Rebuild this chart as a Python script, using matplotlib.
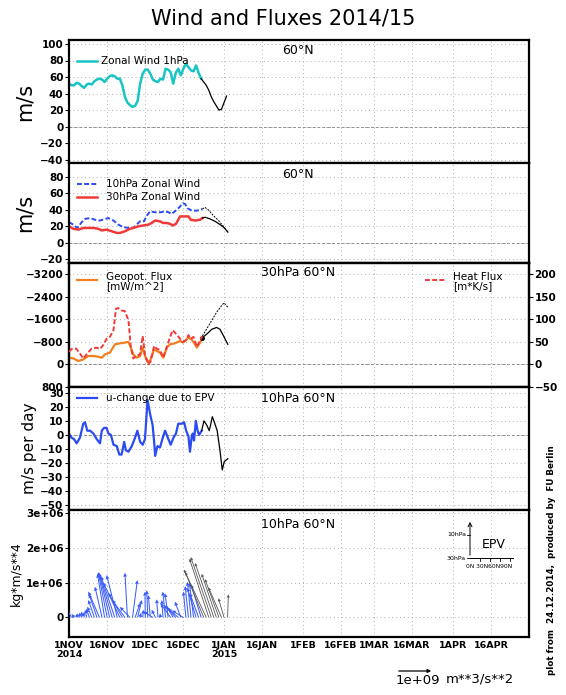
import numpy as np
import matplotlib
matplotlib.use("Agg")
import matplotlib.pyplot as plt

# x axis: days since 1 Nov 2014
tick_days = [0, 15, 30, 45, 61, 76, 92, 107, 120, 135, 151, 166]
tick_labels = ["1NOV\n2014", "16NOV", "1DEC", "16DEC", "1JAN\n2015", "16JAN",
               "1FEB", "16FEB", "1MAR", "16MAR", "1APR", "16APR"]
X_END = 181

# panel 1: zonal wind 1hPa 60N (analysis + forecast)
u1_days = list(range(0, 53))
u1_vals = [52, 50, 50, 53, 52, 49, 47, 51, 52, 51, 55, 57, 58, 57, 54, 58, 61, 62,
           61, 58, 58, 50, 36, 29, 26, 24, 25, 31, 52, 64, 69, 69, 64, 57, 55, 54,
           58, 57, 70, 69, 66, 52, 65, 70, 62, 70, 76, 72, 68, 67, 74, 65, 58]
u1f_days = list(range(52, 63))
u1f_vals = [58, 54, 50, 44, 36, 30, 25, 20, 21, 29, 37]

# panel 2: 10hPa / 30hPa zonal wind 60N
u10_days = [0, 1.7, 3.3, 5.0, 6.3, 8.3, 10.2, 12.2, 14.2, 15.5, 17.5, 19.4, 21.4, 23.4,
            25.3, 26.6, 27.9, 29.5, 30.6, 31.9, 33.9, 35.8, 37.8, 39.2, 40.4, 42.4,
            43.7, 44.8, 45.7, 46.6, 48.3, 50.3, 51.6, 52.5]
u10_vals = [25, 22, 18, 25, 29, 30, 28, 27, 29, 30, 27, 22, 19, 18, 18, 22, 26, 26,
            33, 38, 37, 37, 38, 37, 35, 40, 44, 48, 47, 42, 39, 39, 40, 41]
u10f_days = [52.5, 53.5, 54.8, 56.8, 58.8, 60.8, 62.5]
u10f_vals = [41, 43, 40, 33, 27, 20, 13]
u30_days = [0, 1.7, 3.7, 5.6, 7.6, 9.6, 11.5, 12.9, 14.8, 16.8, 18.8, 20.1, 22.0, 24.0,
            25.3, 27.3, 29.3, 31.2, 32.5, 33.9, 35.8, 37.1, 38.5, 39.8, 40.8, 42.1,
            43.7, 45.7, 47.0, 47.9, 49.6, 51.6, 52.5]
u30_vals = [20, 17, 16, 18, 18, 18, 17, 15, 16, 14, 12, 12, 14, 17, 18, 20, 21, 22,
            24, 27, 26, 24, 24, 23, 21, 23, 32, 32, 32, 28, 27, 28, 30]
u30f_days = [52.5, 53.5, 55.5, 57.5, 59.5, 60.8, 62.5]
u30f_vals = [30, 31, 29, 26, 22, 19, 13]

# panel 3: geopotential flux (left, inverted) and heat flux (right)
gp_days = [0, 1.7, 3.7, 5.6, 7.6, 9.6, 11.5, 12.9, 14.2, 16.1, 18.1, 20.1, 22.0, 23.4,
           24.0, 25.3, 26.6, 27.9, 29.0, 29.9, 31.2, 32.1, 33.5, 34.5, 35.8, 37.1,
           38.5, 39.8, 41.7, 43.7, 44.8, 45.7, 47.0, 48.3, 49.6, 50.3, 51.6, 52.5]
gp_vals = [-240, -215, -120, -180, -300, -300, -275, -240, -360, -420, -715, -750,
           -775, -800, -680, -360, -240, -290, -600, -300, -60, -180, -540, -480,
           -420, -240, -600, -715, -750, -835, -780, -835, -955, -880, -715, -600,
           -780, -955]
gpf_days = [52.5, 54.2, 56.2, 58.1, 59.4, 60.8, 62.5]
gpf_vals = [-955, -1075, -1250, -1313, -1250, -1015, -715]
hf_days = [0, 1.0, 2.8, 4.3, 5.6, 7.2, 8.9, 10.9, 12.2, 13.5, 14.8, 16.1, 17.5, 18.5,
           19.4, 20.7, 22.0, 23.4, 24.3, 25.3, 26.6, 27.9, 29.0, 29.9, 31.2, 32.1,
           33.5, 34.5, 35.8, 37.1, 38.5, 39.8, 40.8, 42.4, 43.7, 44.8, 46.1, 47.0,
           47.9, 49.0, 50.3, 51.6, 52.5]
hf_vals = [28, 34, 35, 24, 13, 24, 35, 37, 34, 43, 57, 61, 76, 124, 125, 120, 118,
           98, 39, 13, 20, 21, 63, 21, 0, 6, 41, 35, 32, 15, 39, 61, 76, 66, 57, 50,
           54, 65, 57, 61, 39, 54, 63]
hff_days = [52.5, 54.2, 56.2, 58.1, 60.1, 61.0, 62.5]
hff_vals = [63, 79, 98, 116, 131, 137, 127]

# panel 4: u-change due to EPV, 10hPa
ep_days = [0, 1.0, 2.0, 3.0, 4.3, 5.6, 6.3, 7.2, 8.3, 9.6, 10.9, 12.2, 12.9, 13.8,
           14.8, 15.5, 16.5, 17.5, 18.8, 19.8, 20.7, 21.7, 22.4, 23.4, 24.7, 26.0,
           26.9, 28.0, 29.0, 29.9, 30.9, 31.9, 32.9, 33.5, 33.9, 34.8, 35.8, 36.9,
           37.8, 39.1, 40.0, 41.1, 42.1, 43.0, 44.4, 45.3, 46.1, 47.0, 47.6, 48.3,
           48.7, 49.2, 49.9, 50.6, 51.2, 52.2]
ep_vals = [1, -2, -3, -6, -2, 8, 9, 3, 3, 1, -3, -6, 3, 5, 5, 1, 0, -7, -8, -14, -14,
           -5, -11, -12, -8, -2, 3, -5, -7, -3, 25, 15, 7, -5, -15, -8, -9, -2, 3, -3,
           -7, -2, 1, 8, 8, 9, 3, -1, -12, -1, 1, -4, 10, 3, 0, 3]
epf_days = [52.2, 53.1, 54.2, 55.2, 56.4, 57.4, 58.3, 59.4, 60.3, 61.1, 62.5]
epf_vals = [3, 10, 7, 3, 13, 8, 3, -11, -25, -19, -17]

# panel 5: EP flux vectors at 10hPa (origin day, tip day, vertical component in 1e6)
epv_org = list(range(0, 53))
epv_tip = [-1.5, -1.0, 1.0, 3.3, 4.3, 5.0, 5.5, 6.3, 6.8, 7.2, 7.6, 7.9, 7.6, 10.2,
           11.2, 11.5, 11.8, 12.2, 12.6, 14.8, 13.5, 15.5, 17.0, 22.0, 20.0, 26.9,
           28.0, 28.6, 28.3, 29.3, 29.9, 30.6, 31.2, 29.3, 32.5, 34.5, 35.8, 36.5,
           36.9, 37.8, 36.0, 38.5, 37.5, 39.0, 41.7, 40.5, 45.0, 45.7, 46.6, 47.4,
           46.5, 47.5, 48.0]
epv_fz = [0.15, 0.25, 0.10, 0.12, 0.14, 0.17, 0.15, 0.22, 0.25, 0.31, 0.50, 0.67,
          0.74, 0.88, 1.25, 1.30, 1.28, 1.21, 1.18, 1.21, 1.00, 0.70, 0.50, 1.28,
          0.30, 1.07, 0.41, 0.50, 0.13, 0.22, 0.74, 0.78, 0.64, 0.17, 0.22, 0.52,
          0.12, 0.50, 0.74, 0.69, 0.40, 0.31, 0.35, 0.25, 0.45, 0.20, 0.74, 0.90,
          1.02, 0.99, 0.85, 0.70, 0.95]
epvf_org = [53, 54, 55, 56, 57, 58, 59, 60, 61, 62.4]
epvf_tip = [45.3, 45.7, 47.4, 47.9, 49.6, 52.2, 53.5, 54.9, 58.8, 62.7]
epvf_fz = [1.37, 1.30, 1.68, 1.73, 1.56, 1.25, 1.10, 0.86, 0.55, 0.66]

W, H = 566, 695
fig = plt.figure(figsize=(W / 100, H / 100), dpi=100)
L, R = 69, 529
panels_px = [(40, 163), (163, 263), (263, 387), (387, 510), (510, 637)]


def make_ax(top, bot):
    return fig.add_axes([L / W, 1 - bot / H, (R - L) / W, (bot - top) / H])


axes = [make_ax(t, b) for t, b in panels_px]
TICKFONT = dict(fontsize=7.5, fontweight="bold")
GRID = dict(color="#b0b0b0", linestyle=(0, (1, 3)), linewidth=0.7)


def fmt(v):
    return "\u2212" + str(abs(v)) if v < 0 else str(v)


def style(ax, yticks, ylim, show_x=False):
    ax.set_xlim(0, X_END)
    ax.set_ylim(*ylim)
    ax.set_yticks(yticks)
    ax.set_yticklabels([fmt(v) for v in yticks], **TICKFONT)
    ax.set_xticks(tick_days)
    if show_x:
        ax.set_xticklabels(tick_labels, fontsize=6.8, fontweight="bold", linespacing=0.95)
    else:
        ax.set_xticklabels([])
    ax.tick_params(axis="both", direction="out", length=3, width=0.8, pad=1)
    ax.tick_params(axis="x", length=0, pad=3)
    for s in ax.spines.values():
        s.set_linewidth(1.6)
    for d in tick_days:
        ax.axvline(d, **GRID, zorder=0)
    for v in yticks:
        ax.axhline(v, **GRID, zorder=0)


# --- panel 1
ax = axes[0]
style(ax, [100, 80, 60, 40, 20, 0, -20, -40], (-44, 104.8))
ax.axhline(0, color="#909090", linestyle=(0, (3, 2)), linewidth=0.7)
ax.plot(u1_days, u1_vals, color="#18c4c4", lw=1.8)
ax.plot(u1f_days, u1f_vals, color="black", lw=0.9)
ax.plot([3, 11], [80, 80], color="#18c4c4", lw=1.8)
ax.text(12.5, 80, "Zonal Wind 1hPa", fontsize=7.5, va="center")
ax.text(90, 92, "60°N", fontsize=9, ha="center", va="center")
ax.set_ylabel("m/s", fontsize=15, labelpad=4)

# --- panel 2
ax = axes[1]
style(ax, [80, 60, 40, 20, 0, -20], (-24.5, 96.8))
ax.axhline(0, color="#909090", linestyle=(0, (3, 2)), linewidth=0.7)
ax.plot(u10_days, u10_vals, color="#2a4cf0", lw=1.4, linestyle=(0, (2.5, 1.2)))
ax.plot(u30_days, u30_vals, color="#f03a3a", lw=1.8)
ax.plot(u10f_days, u10f_vals, color="black", lw=0.7, linestyle=(0, (2, 1.2)))
ax.plot(u30f_days, u30f_vals, color="black", lw=0.9)
ax.plot([3, 11], [71, 71], color="#2a4cf0", lw=1.4, linestyle=(0, (2.5, 1.2)))
ax.plot([3, 11], [55, 55], color="#f03a3a", lw=1.8)
ax.text(14.5, 71, "10hPa Zonal Wind", fontsize=7.5, va="center")
ax.text(14.5, 55, "30hPa Zonal Wind", fontsize=7.5, va="center")
ax.text(90, 83, "60°N", fontsize=9, ha="center", va="center")
ax.set_ylabel("m/s", fontsize=15, labelpad=4)

# --- panel 3
ax = axes[2]
style(ax, [-3200, -2400, -1600, -800, 0, 800], (800, -3600))
ax.axhline(0, color="#909090", linestyle=(0, (3, 2)), linewidth=0.7)
ax.plot(gp_days, gp_vals, color="#f08020", lw=1.6, zorder=3)
ax.plot(gpf_days, gpf_vals, color="black", lw=0.9, zorder=3)
ax.plot([52.3], [-955], "o", color="black", ms=2.5, zorder=4)
ax.plot([3, 11], [-3000, -3000], color="#f08020", lw=1.6)
ax.text(14.5, -2950, "Geopot. Flux\n[mW/m^2]", fontsize=7.5, va="center", linespacing=0.85)
ax.text(90, -3250, "30hPa 60°N", fontsize=9, ha="center", va="center")
ax2 = ax.twinx()
ax2.set_xlim(0, X_END)
ax2.set_ylim(-50.5, 225.5)
yr = [200, 150, 100, 50, 0, -50]
ax2.set_yticks(yr)
ax2.set_yticklabels([fmt(v) for v in yr], **TICKFONT)
ax2.tick_params(axis="y", direction="out", length=3, width=0.8, pad=1)
ax2.plot(hf_days, hf_vals, color="#f03a3a", lw=1.4, linestyle=(0, (2.5, 1.2)), zorder=3)
ax2.plot(hff_days, hff_vals, color="black", lw=0.7, linestyle=(0, (2, 1.2)), zorder=3)
ax2.plot([140, 148], [187, 187], color="#f03a3a", lw=1.4, linestyle=(0, (2.5, 1.2)))
ax2.text(151, 184, "Heat Flux\n[m*K/s]", fontsize=7.5, va="center", linespacing=0.85)
for s in ax2.spines.values():
    s.set_linewidth(1.6)

# --- panel 4
ax = axes[3]
style(ax, [30, 20, 10, 0, -10, -20, -30, -40, -50], (-53.6, 34.2))
ax.axhline(0, color="#909090", linestyle=(0, (3, 2)), linewidth=0.7)
ax.plot(ep_days, ep_vals, color="#2a4cf0", lw=1.6)
ax.plot(epf_days, epf_vals, color="black", lw=0.9)
ax.plot([3, 11], [26, 26], color="#2a4cf0", lw=1.6)
ax.text(14.5, 26, "u-change due to EPV", fontsize=7.5, va="center")
ax.text(90, 26, "10hPa 60°N", fontsize=9, ha="center", va="center")
ax.set_ylabel("m/s per day", fontsize=11, labelpad=2)

# --- panel 5
ax = axes[4]
style(ax, [3e6, 2e6, 1e6, 0], (-0.56e6, 3.077e6), show_x=True)
ax.set_yticklabels(["3e+06", "2e+06", "1e+06", "0"], **TICKFONT)
org = np.array(epv_org, float)
ax.quiver(org, np.zeros_like(org), np.array(epv_tip) - org, np.array(epv_fz) * 1e6,
          angles="xy", scale_units="xy", scale=1, color="#3a5cf5", width=0.0022,
          headwidth=4, headlength=4, headaxislength=3.6, zorder=3)
orgf = np.array(epvf_org, float)
ax.quiver(orgf, np.zeros_like(orgf), np.array(epvf_tip) - orgf, np.array(epvf_fz) * 1e6,
          angles="xy", scale_units="xy", scale=1, color="#555555", width=0.0018,
          headwidth=4, headlength=4, headaxislength=3.6, zorder=3)
ax.text(90, 2.65e6, "10hPa 60°N", fontsize=9, ha="center", va="center")
ax.set_ylabel("kg*m/s**4", fontsize=9, labelpad=2)


# EPV key inset (figure pixel coordinates)
def fx(px):
    return px / W


def fy(py):
    return 1 - py / H


fig.add_artist(matplotlib.patches.FancyArrowPatch((fx(470), fy(558)), (fx(470), fy(519)),
               transform=fig.transFigure, arrowstyle="->", mutation_scale=7, lw=0.7))
fig.add_artist(plt.Line2D([fx(470), fx(513)], [fy(558), fy(558)], transform=fig.transFigure,
                          color="black", lw=0.7))
for px in [480, 490, 500, 510]:
    fig.add_artist(plt.Line2D([fx(px), fx(px)], [fy(558), fy(561)], transform=fig.transFigure,
                              color="black", lw=0.6))
for py in [535, 558]:
    fig.add_artist(plt.Line2D([fx(467), fx(470)], [fy(py), fy(py)], transform=fig.transFigure,
                              color="black", lw=0.6))
fig.text(fx(466), fy(535), "10hPa", fontsize=4.5, ha="right", va="center")
fig.text(fx(466), fy(558), "30hPa", fontsize=4.5, ha="right", va="center")
fig.text(fx(489), fy(567), "0N 30N60N90N", fontsize=4.3, ha="center", va="center")
fig.text(fx(494), fy(545), "EPV", fontsize=9, ha="center", va="center")

# reference vector
fig.add_artist(matplotlib.patches.FancyArrowPatch((fx(396), fy(671)), (fx(434), fy(671)),
               transform=fig.transFigure, arrowstyle="-|>", mutation_scale=5, lw=0.9))
fig.text(fx(396), fy(681), "1e+09", fontsize=9.5, ha="left", va="center")
fig.text(fx(446), fy(679), "m**3/s**2", fontsize=9.5, ha="left", va="center")

fig.text(fx(552), fy(560), "plot from  24.12.2014,  produced by  FU Berlin", fontsize=6.3,
         fontweight="bold", rotation=90, ha="center", va="center")
fig.text(0.5, fy(18), "Wind and Fluxes 2014/15", fontsize=15, ha="center", va="center")

fig.savefig("out.png", dpi=100)
